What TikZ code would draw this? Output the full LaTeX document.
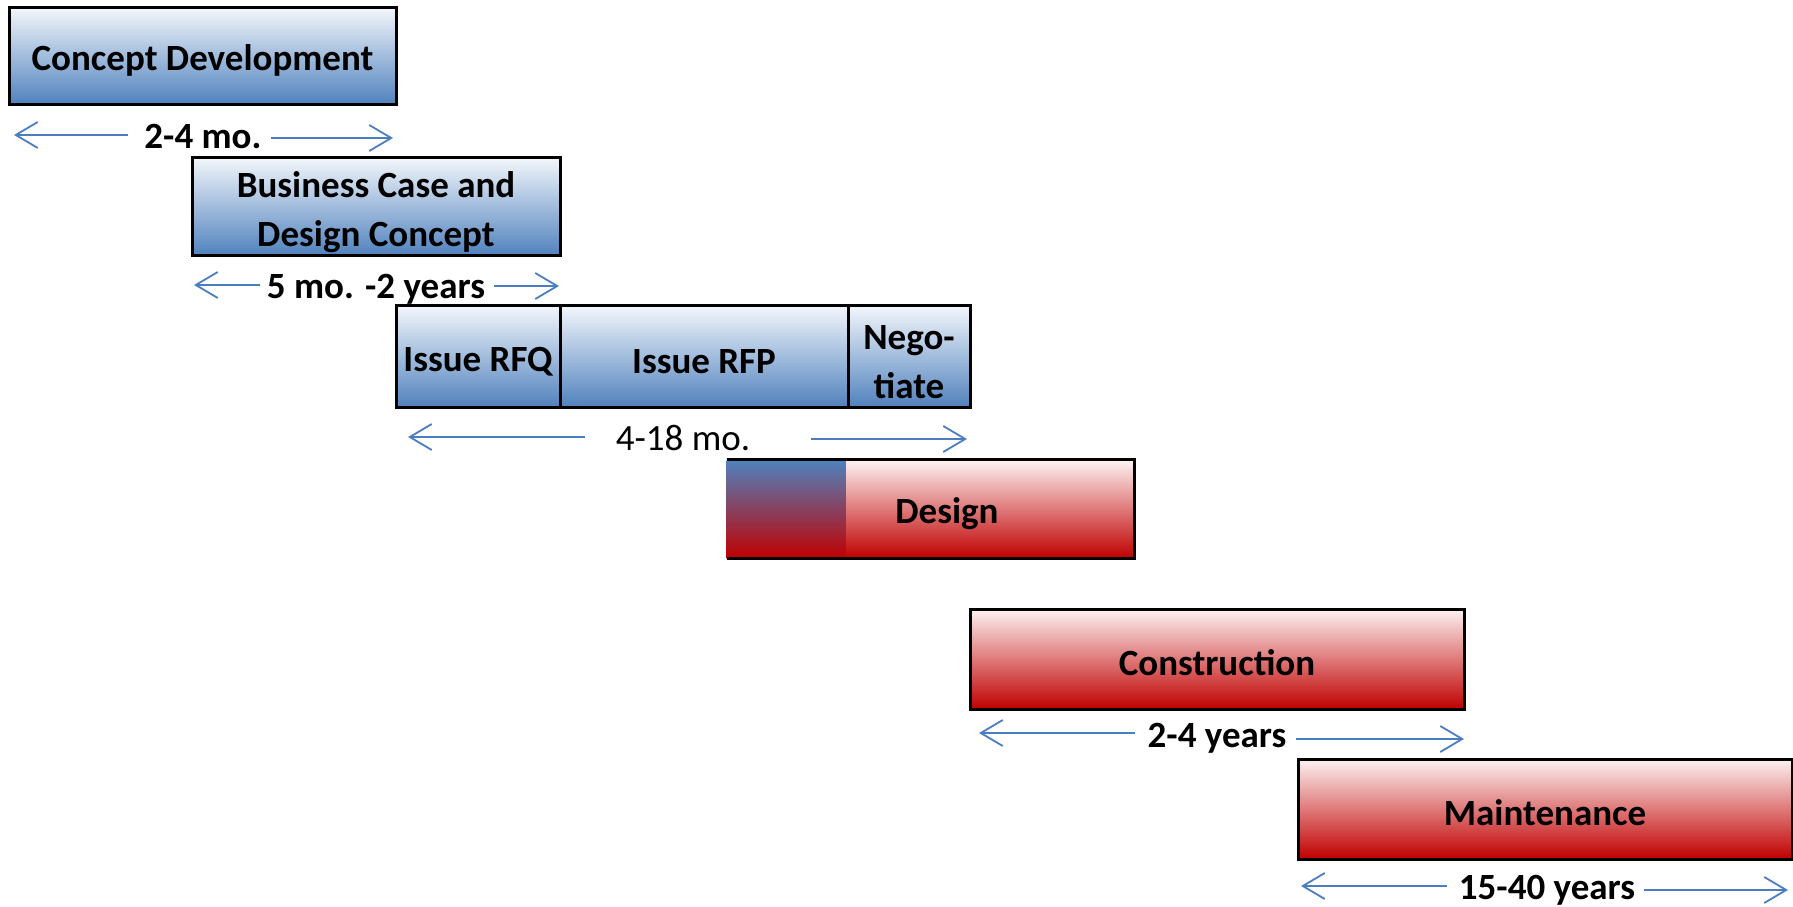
\documentclass[tikz,border=0pt]{standalone}
\usepackage{fontspec}
\setmainfont{Carlito}
\usetikzlibrary{arrows.meta}
\definecolor{oblue}{RGB}{79,129,189}
\definecolor{ored}{RGB}{192,0,0}
\definecolor{ltblue}{RGB}{242,246,251}
\definecolor{ltred}{RGB}{253,242,242}
\definecolor{arrowblue}{RGB}{74,126,193}
\begin{document}
\begin{tikzpicture}[x=0.5pt,y=0.5pt,
  txt/.style={font=\bfseries\fontsize{18.5}{24.5}\selectfont, align=center, inner sep=0pt},
  bluebox/.style={draw=black, line width=1.5pt, top color=ltblue, bottom color=oblue, inner sep=0pt, anchor=center},
  redbox/.style={draw=black, line width=1.5pt, top color=ltred, bottom color=ored, inner sep=0pt, anchor=center},
  lab/.style={txt, anchor=center},
  dimarrow/.style={draw=arrowblue, line width=1pt, -{Straight Barb[length=11pt,width=13pt,line width=0.9pt]}}
]
\useasboundingbox (0,0) rectangle (1793,906);

% Concept Development
\node[bluebox, minimum width=193.5pt, minimum height=48.5pt] (concept) at (202.5,849.5) {};
\node[lab] (concepttxt) at ([yshift=-2pt]concept.center) {Concept Development};
\node[lab] (l1) at (203,769) {2-4 mo.};
\coordinate (l1a) at (128,771); \coordinate (l1b) at (14,771);
\coordinate (l1c) at (271,768); \coordinate (l1d) at (393,768);
\draw[dimarrow] (l1a) -- (l1b);
\draw[dimarrow] (l1c) -- (l1d);

% Business case
\node[bluebox, minimum width=184pt, minimum height=49pt] (business) at (376,699) {};
\node[lab] (businesstxt) at ([yshift=-2.5pt]business.center) {Business Case and\\Design Concept};
\node[lab] (l2) at (376,617) {5 mo. -2 years};
\coordinate (l2a) at (260,621); \coordinate (l2b) at (194,621);
\coordinate (l2c) at (494,620); \coordinate (l2d) at (559,620);
\draw[dimarrow] (l2a) -- (l2b);
\draw[dimarrow] (l2c) -- (l2d);

% Procurement
\node[bluebox, minimum width=82pt, minimum height=51pt] (rfq) at (478,549) {};
\node[bluebox, minimum width=144pt, minimum height=51pt] (rfp) at (704,549) {};
\node[bluebox, minimum width=61pt, minimum height=51pt] (nego) at (909,549) {};
\node[lab] (rfqtxt) at ([yshift=-2.5pt]rfq.center) {Issue RFQ};
\node[lab] (rfptxt) at ([yshift=-2.5pt]rfp.center) {Issue RFP};
\node[lab] (negotxt) at ([yshift=-2.5pt]nego.center) {Nego-\\tiate};
\node[lab, font=\fontsize{18.5}{24.5}\selectfont] (l3) at (683,468) {4-18 mo.};
\coordinate (l3a) at (585,469); \coordinate (l3b) at (408,469);
\coordinate (l3c) at (811,467); \coordinate (l3d) at (967,467);
\draw[dimarrow] (l3a) -- (l3b);
\draw[dimarrow] (l3c) -- (l3d);

% Design
\node[minimum width=203.5pt, minimum height=49pt, inner sep=0pt, top color=ltred, bottom color=ored] (design) at (930.5,397) {};
\fill[top color=oblue, bottom color=ored] (design.south west) rectangle ++(119,98);
\draw[line width=1.5pt] (design.north west) -- (design.north east) -- (design.south east) -- (design.south west);
\node[lab] (designlab) at (947,392) {Design};

% Construction
\node[redbox, minimum width=247pt, minimum height=50pt] (construction) at (1217,247) {};
\node[lab] (constructiontxt) at ([yshift=-2pt]construction.center) {Construction};
\node[lab] (l4) at (1217,168) {2-4 years};
\coordinate (l4a) at (1135,173); \coordinate (l4b) at (979,173);
\coordinate (l4c) at (1296,167); \coordinate (l4d) at (1464,167);
\draw[dimarrow] (l4a) -- (l4b);
\draw[dimarrow] (l4c) -- (l4d);

% Maintenance
\node[redbox, minimum width=247pt, minimum height=50pt] (maintenance) at (1545,97) {};
\node[lab] (maintenancetxt) at ([yshift=-2pt]maintenance.center) {Maintenance};
\node[lab] (l5) at (1547,16) {15-40 years};
\coordinate (l5a) at (1447,20); \coordinate (l5b) at (1301,20);
\coordinate (l5c) at (1644,16); \coordinate (l5d) at (1788,16);
\draw[dimarrow] (l5a) -- (l5b);
\draw[dimarrow] (l5c) -- (l5d);
\end{tikzpicture}
\end{document}
